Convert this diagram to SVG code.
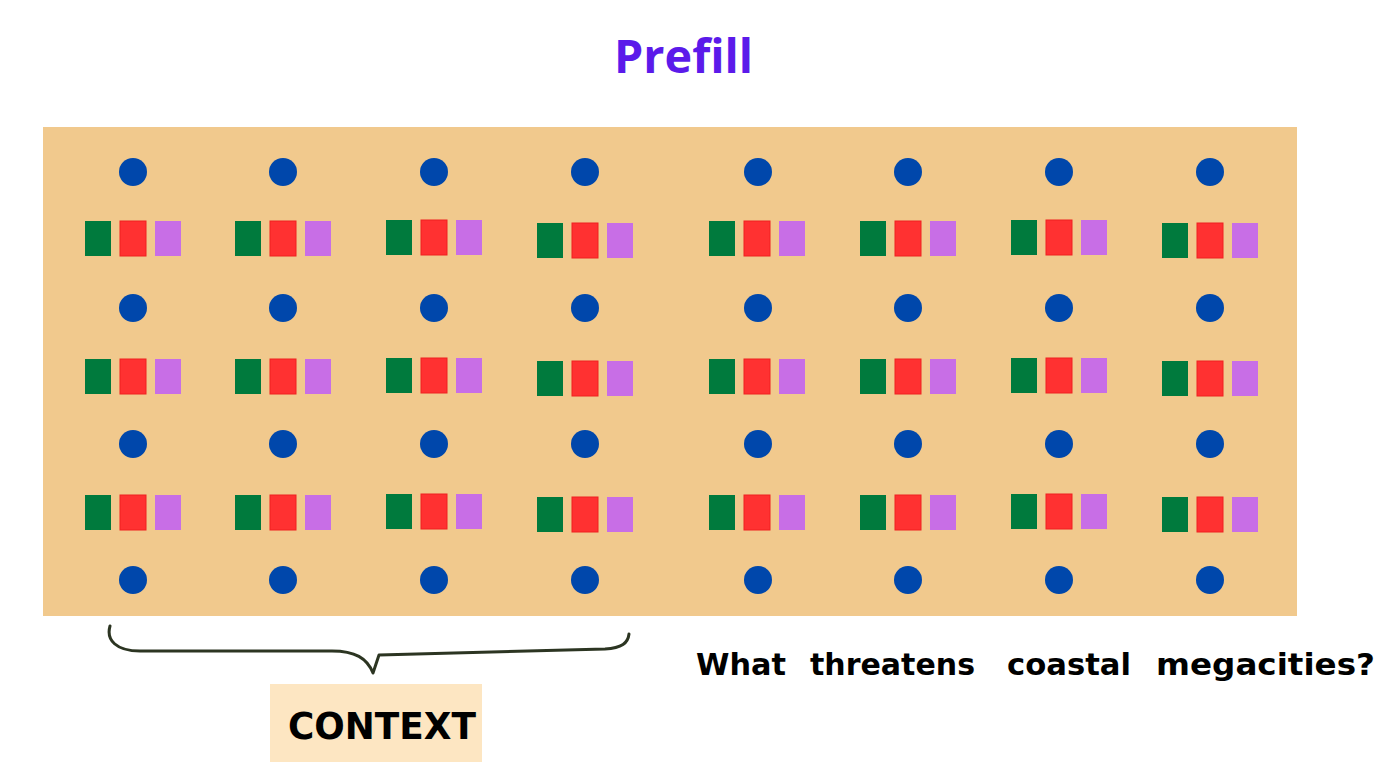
<svg xmlns="http://www.w3.org/2000/svg" width="1400" height="773" viewBox="0 0 1400 773">
<style>
.c{fill:#0047ab}
.g{fill:#007a3d}
.r{fill:#ff3131;stroke:#f02020;stroke-width:1}
.p{fill:#c86ee6}
.t{font-family:"DejaVu Sans","Open Sans",sans-serif;font-weight:bold;fill:#000}
</style>
<defs>
<g id="trio">
<rect class="g" x="0" y="0" width="26" height="35"/>
<rect class="r" x="35" y="0" width="26" height="35"/>
<rect class="p" x="70" y="0" width="26" height="35"/>
</g>
</defs>
<rect width="1400" height="773" fill="#fff"/>
<text id="title" x="614" y="73" textLength="139" lengthAdjust="spacingAndGlyphs" font-family="'Open Sans','DejaVu Sans',sans-serif" font-weight="bold" font-size="46" fill="#5b1aea">Prefill</text>
<g id="panel">
<rect x="43" y="127" width="1254" height="489" fill="#f1c98d"/>
<g id="circles">
<circle class="c" cx="133" cy="172" r="14"/><circle class="c" cx="283" cy="172" r="14"/><circle class="c" cx="434" cy="172" r="14"/><circle class="c" cx="585" cy="172" r="14"/><circle class="c" cx="758" cy="172" r="14"/><circle class="c" cx="908" cy="172" r="14"/><circle class="c" cx="1059" cy="172" r="14"/><circle class="c" cx="1210" cy="172" r="14"/>
<circle class="c" cx="133" cy="308" r="14"/><circle class="c" cx="283" cy="308" r="14"/><circle class="c" cx="434" cy="308" r="14"/><circle class="c" cx="585" cy="308" r="14"/><circle class="c" cx="758" cy="308" r="14"/><circle class="c" cx="908" cy="308" r="14"/><circle class="c" cx="1059" cy="308" r="14"/><circle class="c" cx="1210" cy="308" r="14"/>
<circle class="c" cx="133" cy="444" r="14"/><circle class="c" cx="283" cy="444" r="14"/><circle class="c" cx="434" cy="444" r="14"/><circle class="c" cx="585" cy="444" r="14"/><circle class="c" cx="758" cy="444" r="14"/><circle class="c" cx="908" cy="444" r="14"/><circle class="c" cx="1059" cy="444" r="14"/><circle class="c" cx="1210" cy="444" r="14"/>
<circle class="c" cx="133" cy="580" r="14"/><circle class="c" cx="283" cy="580" r="14"/><circle class="c" cx="434" cy="580" r="14"/><circle class="c" cx="585" cy="580" r="14"/><circle class="c" cx="758" cy="580" r="14"/><circle class="c" cx="908" cy="580" r="14"/><circle class="c" cx="1059" cy="580" r="14"/><circle class="c" cx="1210" cy="580" r="14"/>
</g>
<g id="squares">
<use href="#trio" x="85" y="221"/><use href="#trio" x="235" y="221"/><use href="#trio" x="386" y="220"/><use href="#trio" x="537" y="223"/><use href="#trio" x="709" y="221"/><use href="#trio" x="860" y="221"/><use href="#trio" x="1011" y="220"/><use href="#trio" x="1162" y="223"/>
<use href="#trio" x="85" y="359"/><use href="#trio" x="235" y="359"/><use href="#trio" x="386" y="358"/><use href="#trio" x="537" y="361"/><use href="#trio" x="709" y="359"/><use href="#trio" x="860" y="359"/><use href="#trio" x="1011" y="358"/><use href="#trio" x="1162" y="361"/>
<use href="#trio" x="85" y="495"/><use href="#trio" x="235" y="495"/><use href="#trio" x="386" y="494"/><use href="#trio" x="537" y="497"/><use href="#trio" x="709" y="495"/><use href="#trio" x="860" y="495"/><use href="#trio" x="1011" y="494"/><use href="#trio" x="1162" y="497"/>
</g>
</g>
<g id="connectors">
<path d="M110,626 C106,640 116,651 140,651 L332,651 C355,651 367,658 373,673 L379,655 L605,649 C622,648 628,643 629,634" fill="none" stroke="#2c3522" stroke-width="3" stroke-linecap="round" stroke-linejoin="round"/>
</g>
<g id="context">
<rect x="270" y="684" width="212" height="78" fill="#fde6c2"/>
<text class="t" x="288" y="739" font-size="37" textLength="188" lengthAdjust="spacingAndGlyphs">CONTEXT</text>
</g>
<g id="question">
<text class="t" y="675" font-size="30"><tspan x="696" textLength="90" lengthAdjust="spacingAndGlyphs">What</tspan><tspan x="810" textLength="165" lengthAdjust="spacingAndGlyphs">threatens</tspan><tspan x="1007" textLength="124" lengthAdjust="spacingAndGlyphs">coastal</tspan><tspan x="1156" textLength="219" lengthAdjust="spacingAndGlyphs">megacities?</tspan></text>
</g>
</svg>
